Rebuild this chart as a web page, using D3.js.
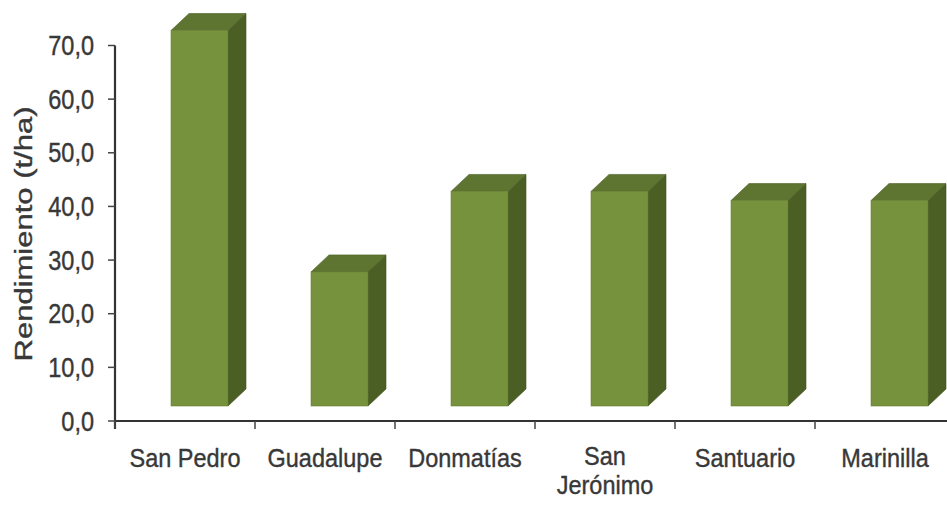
<!DOCTYPE html>
<html>
<head>
<meta charset="utf-8">
<script src="https://cdn.jsdelivr.net/npm/d3@7"></script>
<style>
  html, body { margin: 0; padding: 0; background: #fff; }
  svg { display: block; }
  text { font-family: "Liberation Sans", Arial, sans-serif; fill: #383838; stroke: #383838; stroke-width: 0.35px; }
</style>
</head>
<body>
<svg id="chart" width="947" height="506"></svg>
<script>
const categories = [["San Pedro"], ["Guadalupe"], ["Donmatías"], ["San", "Jerónimo"], ["Santuario"], ["Marinilla"]];
const values = [70.0, 25.0, 40.0, 40.0, 38.3, 38.3];
const yTicks = [0, 10, 20, 30, 40, 50, 60, 70];
const yTitle = "Rendimiento (t/ha)";

const W = 947, H = 506;
const svg = d3.select("#chart");

const x0 = 115, band = 140;
const x = d3.scaleBand()
  .domain(d3.range(categories.length))
  .range([x0, x0 + band * categories.length])
  .paddingInner(0).paddingOuter(0);

const y = d3.scaleLinear().domain([0, 70]).range([421, 45.5]);

// 3D geometry
const frontOffset = 56, frontW = 57;
const floorLift = 15;           // bars sit behind the axis plane
const dx = 18, dy = -17;        // depth projection

const colFront = "#77923c", colSide = "#4b5f24", colTop = "#5d7530";

const bars = svg.append("g");
values.forEach((v, i) => {
  const xl = x(i) + frontOffset, xr = xl + frontW;
  const yb = y(0) - floorLift, yt = y(v) - floorLift;
  const g = bars.append("g");
  g.append("path")
    .attr("d", `M${xr},${yt}L${xr+dx},${yt+dy}L${xr+dx},${yb+dy}L${xr},${yb}Z`)
    .attr("fill", colSide).attr("stroke", "#3f5020").attr("stroke-width", 0.6);
  g.append("path")
    .attr("d", `M${xl},${yt}L${xl+dx},${yt+dy}L${xr+dx},${yt+dy}L${xr},${yt}Z`)
    .attr("fill", colTop).attr("stroke", "#4a5e24").attr("stroke-width", 0.6);
  g.append("rect")
    .attr("x", xl).attr("y", yt).attr("width", frontW).attr("height", yb - yt)
    .attr("fill", colFront).attr("stroke", "#6a8434").attr("stroke-width", 0.6);
});

// Y axis
const yAxis = svg.append("g");
yAxis.append("line")
  .attr("x1", x0).attr("x2", x0).attr("y1", y(70)).attr("y2", y(0) + 8)
  .attr("stroke", "#333").attr("stroke-width", 2.2);
const fmt = v => d3.format(".1f")(v).replace(".", ",");
yTicks.forEach(t => {
  yAxis.append("line")
    .attr("x1", x0 - 7).attr("x2", x0).attr("y1", y(t)).attr("y2", y(t))
    .attr("stroke", "#444").attr("stroke-width", 1.5);
  yAxis.append("text")
    .attr("transform", `translate(94,${y(t) + 9.5}) scale(1,1.16)`)
    .attr("text-anchor", "end")
    .attr("font-size", 23.5)
    .text(fmt(t));
});

// X axis
const xAxis = svg.append("g");
xAxis.append("line")
  .attr("x1", x0).attr("x2", W + 20).attr("y1", y(0)).attr("y2", y(0))
  .attr("stroke", "#333").attr("stroke-width", 2.2);
d3.range(categories.length + 1).forEach(i => {
  const xx = x0 + band * i;
  xAxis.append("line")
    .attr("x1", xx).attr("x2", xx).attr("y1", y(0)).attr("y2", y(0) + 8)
    .attr("stroke", "#444").attr("stroke-width", 1.5);
});
categories.forEach((lines, i) => {
  const cx = x(i) + x.bandwidth() / 2;
  lines.forEach((ln, j) => {
    xAxis.append("text")
      .attr("transform", `translate(${cx},${(lines.length > 1 ? 465 : 467) + j * 29}) scale(1,1.12)`)
      .attr("text-anchor", "middle")
      .attr("font-size", 23.5)
      .text(ln);
  });
});

// Y title
svg.append("text")
  .attr("transform", `translate(32,234) rotate(-90)`)
  .attr("text-anchor", "middle")
  .attr("font-size", 23)
  .attr("textLength", 255)
  .attr("lengthAdjust", "spacingAndGlyphs")
  .text(yTitle);
</script>
</body>
</html>
